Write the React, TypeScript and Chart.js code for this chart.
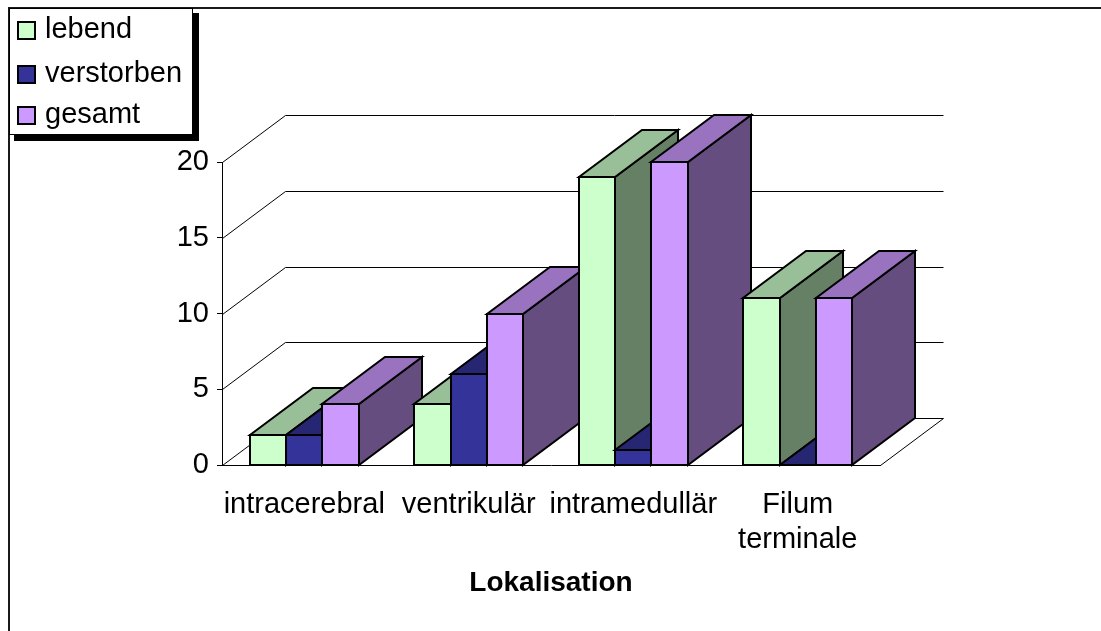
import React, { useEffect, useRef } from 'react';
import { Chart, registerables } from 'chart.js';

Chart.register(...registerables);

// ---- data ----
const categories: (string | string[])[] = ['intracerebral', 'ventrikulär', 'intramedullär', ['Filum', 'terminale']];
const seriesNames = ['lebend', 'verstorben', 'gesamt'];
const lebend = [2, 4, 19, 11];
const verstorben = [2, 6, 1, 0];
const gesamt = [4, 10, 20, 11];
const yTickValues = [0, 5, 10, 15, 20];
const axisTitle = 'Lokalisation';

// ---- styles ----
const frontColors = ['#CCFFCC', '#333399', '#CC99FF'];
const topColors = ['#99BF99', '#262673', '#9973BF'];
const sideColors = ['#668066', '#1A1A4D', '#664D80'];
const FONT = '"Liberation Sans", Arial, sans-serif';
const DX = 63;
const DY = -47;
const legendCenters = [30, 74, 115];

function poly(ctx: CanvasRenderingContext2D, pts: number[][], fill: string) {
  ctx.beginPath();
  ctx.moveTo(pts[0][0], pts[0][1]);
  for (let i = 1; i < pts.length; i++) ctx.lineTo(pts[i][0], pts[i][1]);
  ctx.closePath();
  ctx.fillStyle = fill;
  ctx.fill();
  ctx.stroke();
}

const depthPlugin = {
  id: 'depth3d',
  beforeDatasetsDraw(chart: any) {
    const { ctx, chartArea: ca } = chart;
    const yScale = chart.scales.y;
    ctx.save();
    // walls: left-wall diagonals + back-wall gridlines
    ctx.strokeStyle = '#000';
    ctx.lineWidth = 1;
    for (const t of yScale.ticks) {
      const py = Math.round(yScale.getPixelForValue(t.value)) + 0.5;
      ctx.beginPath();
      ctx.moveTo(ca.left + 0.5, py);
      ctx.lineTo(ca.left + DX + 0.5, py + DY);
      ctx.lineTo(Math.round(ca.right) + DX + 0.5, py + DY);
      ctx.stroke();
    }
    const y0 = Math.round(yScale.getPixelForValue(0)) + 0.5;
    ctx.beginPath();
    ctx.moveTo(Math.round(ca.right) + 0.5, y0);
    ctx.lineTo(Math.round(ca.right) + DX + 0.5, y0 + DY);
    ctx.stroke();

    // bars, painted left to right
    ctx.lineWidth = 2;
    ctx.lineJoin = 'miter';
    const nCat = chart.data.labels.length;
    const nDs = chart.data.datasets.length;
    for (let j = 0; j < nCat; j++) {
      for (let i = 0; i < nDs; i++) {
        const el = chart.getDatasetMeta(i).data[j];
        const { x, y, base, width } = el.getProps(['x', 'y', 'base', 'width'], true);
        const L = Math.round(x - width / 2);
        const R = Math.round(x + width / 2);
        const T = Math.round(Math.min(y, base));
        const B = Math.round(Math.max(y, base));
        poly(ctx, [[R, T], [R + DX, T + DY], [R + DX, B + DY], [R, B]], sideColors[i]);
        poly(ctx, [[L, T], [R, T], [R + DX, T + DY], [L + DX, T + DY]], topColors[i]);
        poly(ctx, [[L, T], [R, T], [R, B], [L, B]], frontColors[i]);
      }
    }
    ctx.restore();
    return false;
  },
  afterDraw(chart: any) {
    const { ctx } = chart;
    ctx.save();
    // frame
    ctx.fillStyle = '#1a1a1a';
    ctx.fillRect(8, 7, 1101, 2);
    ctx.fillRect(8, 7, 2, 631);
    // legend with shadow
    ctx.fillStyle = '#000';
    ctx.fillRect(14, 13, 185, 128);
    ctx.fillStyle = '#fff';
    ctx.fillRect(10, 9, 183, 126);
    ctx.strokeStyle = '#000';
    ctx.lineWidth = 1;
    ctx.strokeRect(9.5, 8.5, 183, 126);
    ctx.lineWidth = 2;
    ctx.font = `29px ${FONT}`;
    ctx.textBaseline = 'alphabetic';
    ctx.textAlign = 'left';
    chart.data.datasets.forEach((ds: any, i: number) => {
      const c = legendCenters[i];
      ctx.fillStyle = ds.backgroundColor;
      ctx.fillRect(18, c - 8, 17, 17);
      ctx.strokeRect(18, c - 8, 17, 17);
      ctx.fillStyle = '#000';
      ctx.fillText(ds.label, 45, c + 8);
    });
    ctx.restore();
  },
};

export default function App() {
  const ref = useRef<HTMLCanvasElement | null>(null);
  useEffect(() => {
    if (!ref.current) return;
    const seriesData = [lebend, verstorben, gesamt];
    const chart = new Chart(ref.current, {
      type: 'bar',
      data: {
        labels: categories as any,
        datasets: seriesNames.map((name, i) => ({
          label: name,
          data: seriesData[i],
          backgroundColor: frontColors[i],
          borderColor: '#000',
          borderWidth: 2,
          categoryPercentage: 0.665,
          barPercentage: 1,
        })),
      },
      options: {
        responsive: false,
        animation: false,
        devicePixelRatio: 1,
        layout: { padding: { left: 0, top: 162, right: 221, bottom: 31 } },
        plugins: { legend: { display: false }, tooltip: { enabled: false } },
        scales: {
          x: {
            offset: true,
            grid: { display: false },
            border: { display: true, color: '#000', width: 1 },
            ticks: {
              color: '#000',
              font: { family: FONT, size: 29, lineHeight: 1.2 },
              padding: 15,
              maxRotation: 0,
              minRotation: 0,
              autoSkip: false,
            },
            title: {
              display: true,
              text: axisTitle,
              color: '#000',
              font: { family: FONT, size: 28, weight: 'bold', lineHeight: 1.2 },
              padding: 0,
            },
            afterFit: (s: any) => { s.height = 135; },
          },
          y: {
            min: yTickValues[0],
            max: yTickValues[yTickValues.length - 1],
            grid: { drawOnChartArea: false, drawTicks: true, tickLength: 5, color: '#000' },
            border: { display: true, color: '#000', width: 1 },
            ticks: {
              stepSize: yTickValues[1] - yTickValues[0],
              color: '#000',
              font: { family: FONT, size: 29 },
              padding: 8,
            },
            afterFit: (s: any) => { s.width = 222; },
          },
        },
      },
      plugins: [depthPlugin],
    } as any);
    return () => chart.destroy();
  }, []);
  return (
    <div style={{ position: 'absolute', left: 0, top: 0, width: 1101, height: 631 }}>
      <canvas ref={ref} width={1101} height={631} style={{ display: 'block' }} />
    </div>
  );
}
